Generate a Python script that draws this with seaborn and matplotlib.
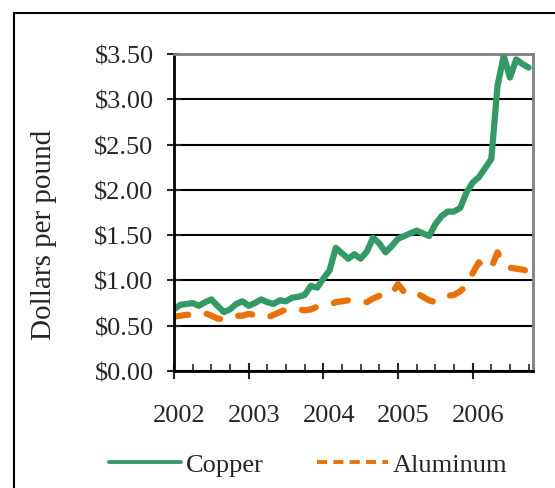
import numpy as np
import pandas as pd
import matplotlib
matplotlib.use('Agg')
import matplotlib.pyplot as plt
from matplotlib.ticker import MultipleLocator, FuncFormatter
from matplotlib.patches import Rectangle
from matplotlib.lines import Line2D
from matplotlib.transforms import ScaledTranslation
import seaborn as sns

# monthly prices, Jan 2002 .. Oct 2006 (dollars per pound)
copper = [0.68, 0.73, 0.74, 0.75, 0.72, 0.76, 0.79, 0.72, 0.65, 0.68,
          0.74, 0.77, 0.72, 0.75, 0.79, 0.76, 0.74, 0.78, 0.77, 0.81,
          0.82, 0.84, 0.94, 0.92, 1.02, 1.11, 1.36, 1.30, 1.24, 1.29,
          1.24, 1.32, 1.47, 1.41, 1.31, 1.38, 1.46, 1.49, 1.52, 1.55,
          1.52, 1.49, 1.62, 1.71, 1.76, 1.76, 1.80, 1.97, 2.08, 2.14,
          2.24, 2.34, 3.15, 3.48, 3.24, 3.44, 3.39, 3.35]
aluminum = [0.60, 0.61, 0.62, 0.62, 0.63, 0.64, 0.61, 0.58, 0.57, 0.60,
            0.61, 0.61, 0.63, 0.62, 0.60, 0.59, 0.62, 0.65, 0.68, 0.69,
            0.68, 0.67, 0.68, 0.71, 0.72, 0.73, 0.76, 0.77, 0.78, 0.78,
            0.77, 0.76, 0.80, 0.83, 0.83, 0.85, 0.96, 0.87, 0.89, 0.86,
            0.82, 0.78, 0.76, 0.80, 0.83, 0.84, 0.88, 0.94, 1.08, 1.20,
            1.13, 1.14, 1.31, 1.18, 1.14, 1.13, 1.12, 1.10]
metals = ['Copper', 'Aluminum']
year_labels = [2002, 2003, 2004, 2005, 2006]

colors = {'Copper': '#339966', 'Aluminum': '#E8710A'}
dash_map = {'Copper': '', 'Aluminum': (2.3, 3.0)}

n = len(copper)
t = 2002 + np.arange(n) / 12.0
df = pd.DataFrame({
    'year': np.concatenate([t, t]),
    'price': copper + aluminum,
    'metal': ['Copper'] * n + ['Aluminum'] * n,
})

sns.set_style('white')
plt.rcParams['font.family'] = ['Liberation Serif', 'DejaVu Serif']
plt.rcParams['font.size'] = 19

W, H = 555, 489
fig = plt.figure(figsize=(W / 100, H / 100), dpi=100)
ax = fig.add_axes([174 / W, 1 - 372 / H, (533 - 174) / W, (372 - 55) / H])

sns.lineplot(data=df, x='year', y='price', hue='metal', style='metal',
             hue_order=metals, style_order=metals, palette=colors,
             dashes=dash_map, linewidth=4.5, legend=False, ax=ax)
for ln in ax.lines:
    ln.set_dash_capstyle('round')
    ln.set_solid_capstyle('round')

ax.set_ylim(0, 3.5)
ax.set_xlim(2002, 2002 + 57.7 / 12)
ax.yaxis.set_major_locator(MultipleLocator(0.5))
ax.yaxis.set_major_formatter(FuncFormatter(lambda v, p: '\\$%.2f' % v))
ax.set_xticks(year_labels)
ax.set_xticklabels([str(y) for y in year_labels])
ax.xaxis.set_minor_locator(MultipleLocator(0.25))

ax.grid(axis='y', color='black', linewidth=1.5)
ax.set_axisbelow(True)
for s in ['left', 'bottom']:
    ax.spines[s].set_color('black')
    ax.spines[s].set_linewidth(2)
for s in ['top', 'right']:
    ax.spines[s].set_color('#808080')
    ax.spines[s].set_linewidth(2)

ax.tick_params(axis='y', which='major', direction='inout', length=9.5, width=1.5,
               pad=10, labelsize=19, left=True)
ax.tick_params(axis='x', which='major', direction='inout', length=11, width=1.5,
               pad=18, labelsize=19, bottom=True)
ax.tick_params(axis='x', which='minor', direction='in', length=5, width=1.2, bottom=True)
# year labels sit a little right of their ticks in the original
shift = ScaledTranslation(4 / 72, 0, fig.dpi_scale_trans)
for lbl in ax.get_xticklabels():
    lbl.set_transform(lbl.get_transform() + shift)

ax.set_xlabel('')
ax.set_ylabel('Dollars per pound', fontsize=21)
ax.yaxis.set_label_coords(-0.325, 0.434)

handles = [Line2D([], [], color=colors['Copper'], lw=2.8),
           Line2D([], [], color=colors['Aluminum'], lw=2.8, linestyle=(0, (2.6, 1.6)))]
fig.legend(handles, metals, loc='center', bbox_to_anchor=(0.556, 0.049), ncol=2,
           frameon=False, handlelength=2.7, handletextpad=0.2, columnspacing=2.0,
           fontsize=19)

# outer chart frame (runs off the right and bottom edges)
fig.patches.append(Rectangle((13.5 / W, -0.1), 1.2, 0.1 + 1 - 13.5 / H,
                             transform=fig.transFigure, fill=False,
                             edgecolor='black', linewidth=1.5))

fig.savefig('out.png', dpi=100)
